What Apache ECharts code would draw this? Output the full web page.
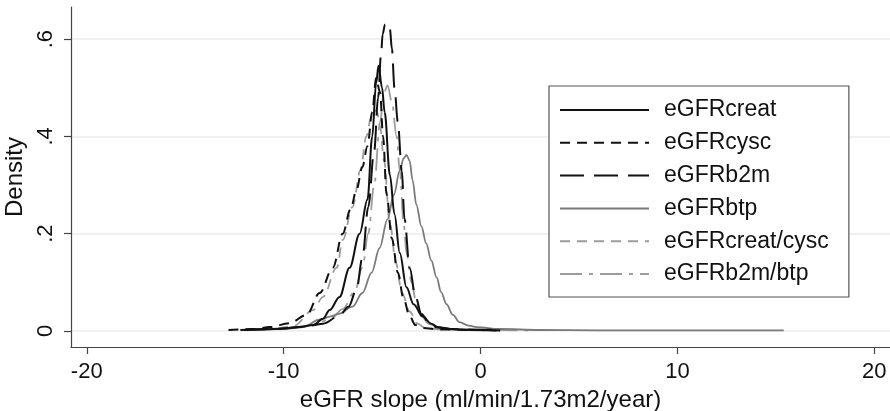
<!DOCTYPE html>
<html>
<head>
<meta charset="utf-8">
<script src="https://cdn.jsdelivr.net/npm/echarts@6/dist/echarts.min.js"></script>
<style>
html,body{margin:0;padding:0;background:#fff;}
#chart{width:890px;height:411px;}
</style>
</head>
<body>
<div id="chart"></div>
<script>
// ---- data ----
const seriesNames = ['eGFRcreat', 'eGFRcysc', 'eGFRb2m', 'eGFRbtp', 'eGFRcreat/cysc', 'eGFRb2m/btp'];

const creatX = [-12.2, -11, -10, -9.2, -8.5, -8.0, -7.66, -7.16, -6.65, -6.14, -5.74, -5.5, -5.3, -5.18, -5.0, -4.87, -4.6, -4.37, -4.1, -3.76, -3.4, -2.94, -2.5, -2.2, -1.5, -0.5, 0.8];
const creatY = [0.002, 0.003, 0.005, 0.008, 0.012, 0.025, 0.043, 0.07, 0.13, 0.2, 0.27, 0.4, 0.51, 0.545, 0.5, 0.45, 0.32, 0.24, 0.16, 0.09, 0.055, 0.03, 0.015, 0.008, 0.004, 0.002, 0.001];

const cyscX = [-12.8, -11.5, -10.7, -9.7, -8.83, -8.17, -7.5, -7.0, -6.6, -6.3, -6.0, -5.74, -5.5, -5.3, -5.1, -4.95, -4.77, -4.5, -4.2, -3.9, -3.6, -3.3, -3.0, -2.0, -0.5, 1.0];
const cyscY = [0.002, 0.004, 0.008, 0.016, 0.033, 0.078, 0.13, 0.2, 0.25, 0.29, 0.337, 0.38, 0.45, 0.52, 0.49, 0.40, 0.28, 0.19, 0.12, 0.065, 0.03, 0.012, 0.006, 0.003, 0.002, 0.001];

const b2mX = [-12, -10.5, -9, -8, -7.2, -6.7, -6.3, -6.0, -5.7, -5.4, -5.2, -5.05, -4.97, -4.85, -4.72, -4.6, -4.5, -4.37, -4.2, -4.0, -3.86, -3.6, -3.3, -3.0, -2.6, -2.2, -1.5, -0.5, 1.0];
const b2mY = [0.002, 0.004, 0.008, 0.015, 0.03, 0.05, 0.085, 0.15, 0.255, 0.37, 0.48, 0.57, 0.61, 0.63, 0.633, 0.62, 0.58, 0.5, 0.43, 0.33, 0.23, 0.13, 0.07, 0.035, 0.015, 0.007, 0.004, 0.003, 0.002];

const btpX = [-12, -10, -9, -8.2, -7.6, -7.2, -6.5, -6.0, -5.53, -5.13, -4.72, -4.4, -4.1, -3.9, -3.76, -3.6, -3.45, -3.26, -3.0, -2.76, -2.5, -2.23, -2.0, -1.73, -1.4, -1.07, -0.6, -0.2, 1.0, 3.0, 6.0, 10.0, 15.4];
const btpY = [0.002, 0.004, 0.008, 0.023, 0.03, 0.035, 0.05, 0.078, 0.12, 0.17, 0.23, 0.28, 0.33, 0.355, 0.362, 0.35, 0.31, 0.26, 0.215, 0.18, 0.145, 0.11, 0.08, 0.055, 0.033, 0.018, 0.011, 0.008, 0.004, 0.002, 0.001, 0.001, 0.001];

const creatCyscX = [-12, -10.5, -9.5, -8.5, -8.0, -7.3, -7.0, -6.5, -6.1, -5.8, -5.55, -5.4, -5.25, -5.1, -4.9, -4.6, -4.3, -4.0, -3.6, -3.2, -2.8, -2.0, -0.5, 1.0];
const creatCyscY = [0.002, 0.005, 0.01, 0.043, 0.07, 0.13, 0.187, 0.255, 0.33, 0.4, 0.44, 0.455, 0.45, 0.42, 0.35, 0.22, 0.14, 0.08, 0.04, 0.015, 0.006, 0.003, 0.002, 0.001];

const b2mBtpX = [-11.5, -10, -8.5, -7.6, -7.0, -6.4, -6.0, -5.7, -5.4, -5.1, -4.9, -4.72, -4.5, -4.26, -4.1, -3.9, -3.76, -3.5, -3.25, -3.0, -2.6, -2.0, -1.0, 0.0, 2.7];
const b2mBtpY = [0.002, 0.005, 0.012, 0.025, 0.045, 0.08, 0.13, 0.2, 0.3, 0.43, 0.49, 0.505, 0.47, 0.4, 0.33, 0.22, 0.16, 0.1, 0.055, 0.03, 0.014, 0.006, 0.003, 0.002, 0.001];

const xTicks = [-20, -10, 0, 10, 20];
const yTicks = [0, 0.2, 0.4, 0.6];
const yTickLabels = ['0', '.2', '.4', '.6'];

// ---- chart ----
const pairs = (xs, ys) => xs.map((x, i) => [x, ys[i]]);
const seriesData = [
  pairs(creatX, creatY), pairs(cyscX, cyscY), pairs(b2mX, b2mY),
  pairs(btpX, btpY), pairs(creatCyscX, creatCyscY), pairs(b2mBtpX, b2mBtpY)
];
const styles = [
  {color: '#111', width: 2, type: 'solid'},
  {color: '#111', width: 2, type: [10, 7]},
  {color: '#111', width: 2, type: [24, 10]},
  {color: '#7a7a7a', width: 1.8, type: 'solid'},
  {color: '#9c9c9c', width: 1.8, type: [10, 7]},
  {color: '#9c9c9c', width: 1.8, type: [22, 7, 4, 7]}
];

const FONT = 'Liberation Sans, Arial, sans-serif';
const chart = echarts.init(document.getElementById('chart'), null, {renderer: 'canvas'});
chart.setOption({
  animation: false,
  backgroundColor: '#fff',
  grid: {left: 71, right: 0, top: 7, bottom: 64, containLabel: false, outerBoundsMode: 'none'},
  xAxis: {
    type: 'value', min: -20.8, max: 20.8,
    name: 'eGFR slope (ml/min/1.73m2/year)', nameLocation: 'middle', nameGap: 40,
    nameTextStyle: {fontFamily: FONT, fontSize: 24, color: '#111'},
    axisLine: {show: true, onZero: false, lineStyle: {color: '#444', width: 1.2}},
    axisTick: {show: true, length: 7, customValues: xTicks, lineStyle: {color: '#444', width: 1.2}},
    axisLabel: {customValues: xTicks, margin: 14, fontFamily: FONT, fontSize: 22, color: '#111'},
    splitLine: {show: false}
  },
  yAxis: {
    type: 'value', min: -0.033, max: 0.666,
    name: 'Density', nameLocation: 'middle', nameGap: 44,
    nameTextStyle: {fontFamily: FONT, fontSize: 24, color: '#111'},
    axisLine: {show: true, onZero: false, lineStyle: {color: '#444', width: 1.2}},
    axisTick: {show: true, length: 7, customValues: yTicks, lineStyle: {color: '#444', width: 1.2}},
    axisLabel: {
      customValues: yTicks, rotate: 90, margin: 14, fontFamily: FONT, fontSize: 22, color: '#111',
      formatter: v => { const i = yTicks.findIndex(t => Math.abs(t - v) < 1e-9); return i >= 0 ? yTickLabels[i] : ''; }
    },
    splitLine: {show: true, lineStyle: {color: '#ececec', width: 1.5}}
  },
  legend: {
    show: true,
    orient: 'vertical', left: 549, top: 86,
    padding: [12, 20, 11, 10],
    itemGap: 8.8, itemWidth: 89, itemHeight: 14,
    itemStyle: {opacity: 0},
    borderColor: '#555', borderWidth: 1.2, backgroundColor: '#fff',
    textStyle: {fontFamily: FONT, fontSize: 23, color: '#111', lineHeight: 24, padding: [0, 0, 0, 10]},
    data: seriesNames
  },
  series: seriesNames.map((n, i) => ({
    name: n, type: 'line', data: seriesData[i],
    smooth: 0.35, smoothMonotone: 'x', symbol: 'none',
    lineStyle: styles[i], itemStyle: {color: styles[i].color},
    z: 10 - i
  }))
});
</script>
</body>
</html>
